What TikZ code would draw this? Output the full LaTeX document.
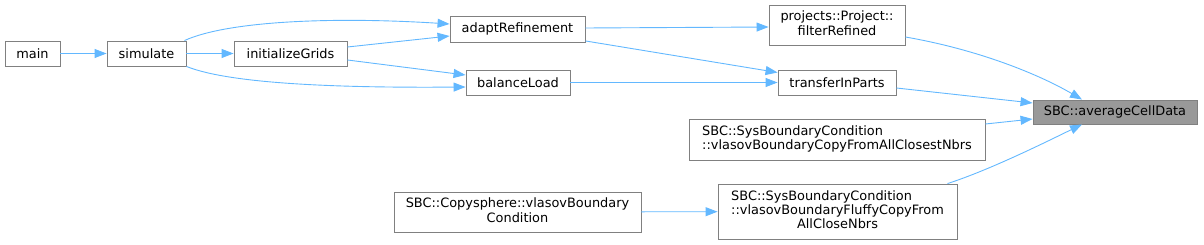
\documentclass[tikz,border=0pt]{standalone}
\usepackage{fontspec}
\setmainfont{DejaVu Sans}
\usetikzlibrary{arrows.meta}
\definecolor{edgeblue}{HTML}{63B8FF}
\definecolor{nodeborder}{HTML}{808080}
\definecolor{hlfill}{HTML}{999999}
\tikzset{
  fn/.style={draw=nodeborder, fill=white, line width=0.9pt, inner sep=0pt,
    font=\fontsize{12.9}{14.3}\selectfont, align=center},
  hl/.style={fn, fill=hlfill},
  call/.style={draw=edgeblue, line width=0.9pt, -{Triangle[length=12pt,width=9pt]}},
}
\begin{document}
\begin{tikzpicture}[x=1pt,y=-1pt]
\useasboundingbox (0,0) rectangle (1204,245);
\node[fn, minimum width=55pt, minimum height=25pt] (main) at (32.5,53.5) {main};
\node[fn, minimum width=79pt, minimum height=25pt] (simulate) at (146.5,53.5) {simulate};
\node[fn, minimum width=113pt, minimum height=25pt] (initializeGrids) at (290.5,53.5) {initializeGrids};
\node[fn, minimum width=135pt, minimum height=26pt] (adaptRefinement) at (517.5,29) {adaptRefinement};
\node[fn, minimum width=104pt, minimum height=25pt] (balanceLoad) at (518,82.5) {balanceLoad};
\node[fn, minimum width=136pt, minimum height=40pt] (filterRefined) at (837,25)
  {\begin{tabular}{@{}l@{}}projects::Project::\\\multicolumn{1}{@{}c@{}}{filterRefined}\end{tabular}};
\node[fn, minimum width=118pt, minimum height=25pt] (transferInParts) at (837,82.5) {transferInParts};
\node[hl, minimum width=164pt, minimum height=24pt] (averageCellData) at (1115,112) {SBC::averageCellData};
\node[fn, minimum width=296pt, minimum height=41pt] (closest) at (837,139.5)
  {\begin{tabular}{@{}l@{}}SBC::SysBoundaryCondition\\\multicolumn{1}{@{}c@{}}{::vlasovBoundaryCopyFromAllClosestNbrs}\end{tabular}};
\node[fn, minimum width=239pt, minimum height=55pt] (fluffy) at (837.5,211.5)
  {\begin{tabular}{@{}l@{}}SBC::SysBoundaryCondition\\::vlasovBoundaryFluffyCopyFrom\\\multicolumn{1}{@{}c@{}}{AllCloseNbrs}\end{tabular}};
\node[fn, minimum width=247pt, minimum height=40pt] (copysphere) at (517.5,212)
  {\begin{tabular}{@{}l@{}}SBC::Copysphere::vlasovBoundary\\\multicolumn{1}{@{}c@{}}{Condition}\end{tabular}};

\draw[call] (main) -- (simulate);
\draw[call] (simulate) -- (initializeGrids);
\draw[call] ([xshift=-2pt]simulate.north east) .. controls (230,20) and (340,17) .. ([yshift=5pt]adaptRefinement.west);
\draw[call] ([yshift=6.5pt]initializeGrids.east) -- ([yshift=-7pt]adaptRefinement.west);
\draw[call] ([yshift=-6.5pt]initializeGrids.east) -- ([yshift=7.5pt]balanceLoad.west);
\draw[call] (simulate.south east) .. controls (230,84) and (340,88) .. ([yshift=-4.5pt]balanceLoad.west);
\draw[call] ([yshift=1pt]adaptRefinement.east) -- ([yshift=-2pt]filterRefined.west);
\draw[call] ([yshift=1.5pt]adaptRefinement.south east) -- ([yshift=10pt]transferInParts.west);
\draw[call] (balanceLoad) -- (transferInParts);
\draw[call] ([yshift=-12pt]filterRefined.east) .. controls (980,50) and (1040,75) .. ([xshift=-33pt]averageCellData.north);
\draw[call] ([yshift=-5.5pt]transferInParts.east) -- ([yshift=9pt]averageCellData.west);
\draw[call] ([yshift=15.5pt]closest.east) -- ([yshift=-7pt]averageCellData.west);
\draw[call] ([xshift=110pt]fluffy.north) .. controls (990,170) and (1050,140) .. ([xshift=-33pt]averageCellData.south);
\draw[call] (copysphere) -- (fluffy);
\end{tikzpicture}
\end{document}
